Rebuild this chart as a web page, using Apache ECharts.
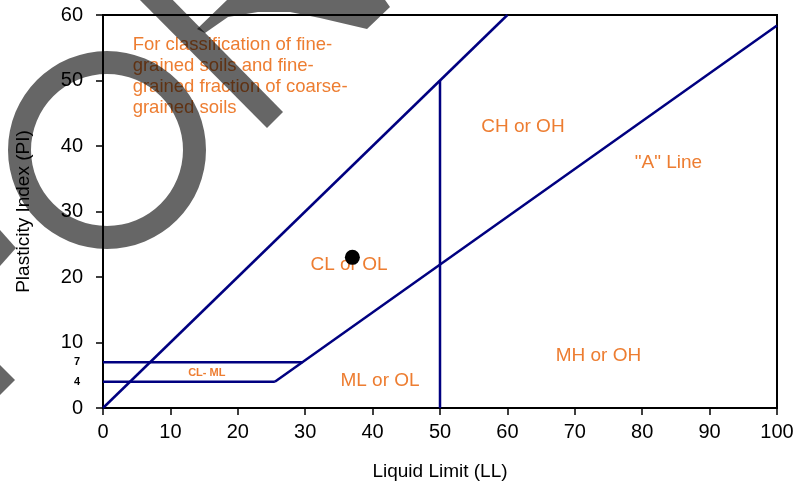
<!DOCTYPE html>
<html>
<head>
<meta charset="utf-8">
<script src="https://cdn.jsdelivr.net/npm/echarts@6/dist/echarts.min.js"></script>
<style>
  html, body { margin: 0; padding: 0; background: #ffffff; }
  #chart { width: 811px; height: 487px; }
</style>
</head>
<body>
<div id="chart"></div>
<script>
// Casagrande plasticity chart (Liquid Limit vs Plasticity Index)

// Axis ticks
const llTicks = [0, 10, 20, 30, 40, 50, 60, 70, 80, 90, 100];
const piTicks = [0, 10, 20, 30, 40, 50, 60];
const piExtraTicks = [4, 7];

// Boundary lines (LL values, PI values)
const uLineLL = [0, 60];
const uLinePI = [0, 60];
const aLineLL = [25.5, 100];
const aLinePI = [4, 58.4];
const ll50LL = [50, 50];
const ll50PI = [0, 50];
const pi7LL = [0, 29.6];
const pi7PI = [7, 7];
const pi4LL = [0, 25.5];
const pi4PI = [4, 4];

// Tested sample
const sampleLL = [37];
const samplePI = [23];

// Zone captions and their anchor points
const zoneNames = ['CH or OH', '"A" Line', 'CL or OL', 'ML or OL', 'MH or OH'];
const zoneLL = [62.3, 83.9, 36.5, 41.1, 73.5];
const zonePI = [42.9, 37.4, 21.8, 4.2, 7.9];
const clmlName = 'CL- ML';
const clmlLL = 15.4;
const clmlPI = 5.3;
const noteText = 'For classification of fine-\ngrained soils and fine-\ngrained fraction of coarse-\ngrained soils';
const noteLL = 4.4;
const notePI = 57.0;

const NAVY = '#000080';
const ORANGE = '#ED7D31';
const FONT = '"Liberation Sans", Arial, sans-serif';
const STAMP = 'rgba(0,0,0,0.6)';

const pairs = (xs, ys) => xs.map((x, i) => [x, ys[i]]);

const boundary = (name, xs, ys) => ({
  name: name,
  type: 'line',
  data: pairs(xs, ys),
  symbol: 'none',
  silent: true,
  lineStyle: { color: NAVY, width: 2.5, opacity: 1 },
  z: 3
});

const caption = (name, data, label) => ({
  name: name,
  type: 'scatter',
  silent: true,
  symbolSize: 0,
  itemStyle: { opacity: 1 },
  data: data,
  label: Object.assign({ show: true, formatter: '{b}', color: ORANGE, fontFamily: FONT, opacity: 1 }, label),
  z: 4
});

const chart = echarts.init(document.getElementById('chart'), null, { renderer: 'canvas' });

const option = {
  backgroundColor: '#ffffff',
  animation: false,
  textStyle: { fontFamily: FONT },
  grid: {
    left: 103, right: 34, top: 15, bottom: 79,
    show: true, borderColor: '#000000', borderWidth: 2
  },
  xAxis: {
    type: 'value',
    min: llTicks[0], max: llTicks[llTicks.length - 1], interval: 10,
    name: 'Liquid Limit (LL)',
    nameLocation: 'middle',
    nameGap: 54,
    nameTextStyle: { color: '#000', fontSize: 19, fontFamily: FONT },
    axisLine: { show: true, lineStyle: { color: '#000', width: 2 } },
    axisTick: { show: true, length: 7, lineStyle: { color: '#000', width: 1.5 } },
    axisLabel: { color: '#000', fontSize: 20, margin: 14, fontFamily: FONT },
    splitLine: { show: false }
  },
  yAxis: [
    {
      type: 'value',
      min: piTicks[0], max: piTicks[piTicks.length - 1], interval: 10,
      name: 'Plasticity Index (PI)',
      nameLocation: 'middle',
      nameGap: 70,
      nameTextStyle: { color: '#000', fontSize: 19, fontFamily: FONT },
      axisLine: { show: true, lineStyle: { color: '#000', width: 2 } },
      axisTick: { show: true, length: 7, lineStyle: { color: '#000', width: 1.5 } },
      axisLabel: { color: '#000', fontSize: 20, margin: 20, fontFamily: FONT },
      splitLine: { show: false }
    },
    {
      type: 'value',
      position: 'left',
      min: piTicks[0], max: piTicks[piTicks.length - 1],
      axisLine: { show: false },
      axisTick: { show: false },
      splitLine: { show: false },
      axisLabel: {
        show: true,
        customValues: piExtraTicks,
        color: '#000', fontSize: 11, fontWeight: 'bold', margin: 23, fontFamily: FONT
      }
    }
  ],
  series: [
    boundary('U', uLineLL, uLinePI),
    boundary('A', aLineLL, aLinePI),
    boundary('LL50', ll50LL, ll50PI),
    boundary('PI7', pi7LL, pi7PI),
    boundary('PI4', pi4LL, pi4PI),
    caption('zones',
      zoneNames.map((n, i) => ({ name: n, value: [zoneLL[i], zonePI[i]] })),
      { position: 'inside', fontSize: 19 }),
    caption('clml',
      [{ name: clmlName, value: [clmlLL, clmlPI] }],
      { position: 'inside', fontSize: 11, fontWeight: 'bold' }),
    caption('note',
      [{ name: noteText, value: [noteLL, notePI] }],
      { position: [0, 0], align: 'left', verticalAlign: 'top', fontSize: 18.5, lineHeight: 21 }),
    {
      name: 'sample',
      type: 'scatter',
      data: pairs(sampleLL, samplePI),
      symbol: 'circle',
      symbolSize: 15,
      itemStyle: { color: '#000000', opacity: 1 },
      z: 5
    }
  ],
  // translucent stamp across the upper-left corner
  graphic: [
    {
      type: 'ring',
      shape: { cx: 107, cy: 150, r: 99, r0: 76 },
      style: { fill: STAMP },
      z: 100, silent: true
    },
    {
      type: 'polygon',
      shape: { points: [[130, -10], [163, -10], [283, 112], [267, 128]] },
      style: { fill: STAMP },
      z: 100, silent: true
    },
    {
      type: 'polygon',
      shape: { points: [[197, 29], [205, 33], [228, 17], [258, 12], [290, 12], [320, 18], [367, 29], [390, 7], [378, -10], [238, -10], [227, 0]] },
      style: { fill: STAMP },
      z: 100, silent: true
    },
    {
      type: 'polygon',
      shape: { points: [[0, 230], [16, 248], [0, 266]] },
      style: { fill: STAMP },
      z: 100, silent: true
    },
    {
      type: 'polygon',
      shape: { points: [[0, 365], [15, 380], [0, 395]] },
      style: { fill: STAMP },
      z: 100, silent: true
    }
  ]
};

chart.setOption(option);
</script>
</body>
</html>
